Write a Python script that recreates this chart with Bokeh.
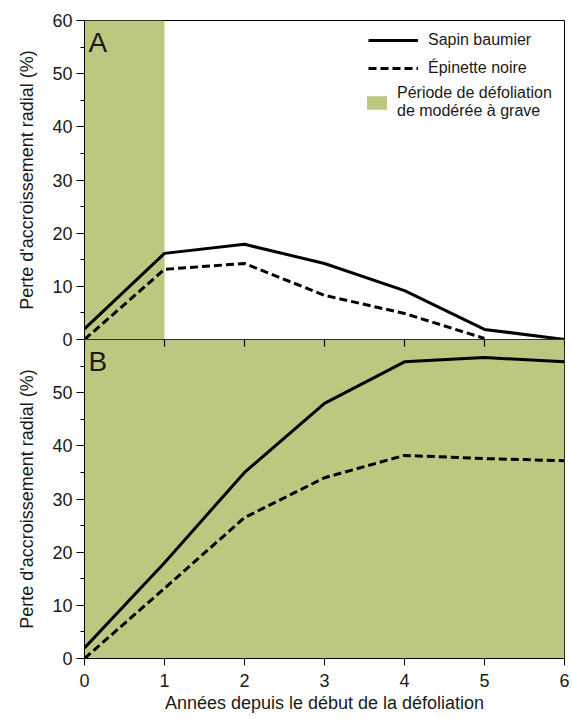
from bokeh.plotting import figure
from bokeh.layouts import column
from bokeh.models import Range1d, FixedTicker, Legend, LegendItem, Label
from bokeh.embed import file_html
from bokeh.resources import INLINE

# ---------------- data ----------------
years = [0, 1, 2, 3, 4, 5, 6]
sapin_A = [2.0, 16.2, 17.9, 14.3, 9.2, 1.9, 0.0]
years_epinette_A = [0, 1, 2, 3, 4, 5]
epinette_A = [0.0, 13.2, 14.3, 8.3, 4.9, 0.2]
sapin_B = [2.0, 18.0, 35.0, 48.0, 55.8, 56.6, 55.8]
epinette_B = [0.0, 13.2, 26.5, 34.0, 38.2, 37.6, 37.2]

defol_A_start = [0]
defol_A_end = [1]
defol_B_start = [0]
defol_B_end = [6]

y_min, y_max = 0, 60
x_min, x_max = 0, 6
y_ticks_A = [0, 10, 20, 30, 40, 50, 60]
y_ticks_B = [0, 10, 20, 30, 40, 50]
y_minor = [5, 15, 25, 35, 45, 55]
x_ticks = [0, 1, 2, 3, 4, 5, 6]

y_label = "Perte d'accroissement radial (%)"
x_label = "Années depuis le début de la défoliation"
lab_sapin = "Sapin baumier"
lab_epinette = "Épinette noire"
lab_defol = "Période de défoliation\nde modérée à grave"

FONT = "Liberation Sans"
GREEN = "#bec77f"
TXT = "#1a1a1a"
W = 572
FRAME_H = 319
TICK_PX = 7
OVERLAP = 14


def style_y(ax, ticks):
    ax.ticker = FixedTicker(ticks=ticks, minor_ticks=y_minor)
    ax.axis_label = y_label
    ax.axis_label_text_font = FONT
    ax.axis_label_text_font_size = "18px"
    ax.axis_label_text_font_style = "normal"
    ax.axis_label_text_color = TXT
    ax.axis_label_standoff = 12
    ax.major_label_text_font = FONT
    ax.major_label_text_font_size = "18px"
    ax.major_label_text_color = TXT
    ax.major_label_standoff = 4
    ax.major_tick_in = 0
    ax.major_tick_out = 8
    ax.minor_tick_in = 0
    ax.minor_tick_out = 4
    ax.axis_line_color = "black"
    ax.major_tick_line_color = "black"
    ax.minor_tick_line_color = "black"


# ---------------- panel A ----------------
pA = figure(width=W, height=20 + FRAME_H + OVERLAP,
            x_range=Range1d(x_min, x_max), y_range=Range1d(y_min, y_max),
            x_axis_location=None, output_backend="svg", toolbar_location=None,
            min_border_left=84, min_border_right=8, min_border_top=20,
            min_border_bottom=OVERLAP)
pA.grid.visible = False
pA.outline_line_color = "black"
pA.outline_line_width = 1
style_y(pA.yaxis[0], y_ticks_A)

bandA = pA.quad(left=defol_A_start, right=defol_A_end, bottom=[y_min],
                top=[y_max], fill_color=GREEN, line_color=None)
rA1 = pA.line(years, sapin_A, line_color="black", line_width=3)
rA2 = pA.line(years_epinette_A, epinette_A, line_color="black",
              line_width=3, line_dash="8 4")

leg1 = Legend(items=[LegendItem(label=lab_sapin, renderers=[rA1]),
                     LegendItem(label=lab_epinette, renderers=[rA2])],
              location=(284, FRAME_H - 58), orientation="vertical",
              glyph_width=50, glyph_height=20, label_standoff=10,
              spacing=8, padding=2, margin=0,
              label_text_font=FONT, label_text_font_size="16px",
              label_text_color=TXT,
              border_line_color=None, background_fill_alpha=0)
leg2 = Legend(items=[LegendItem(label=lab_defol, renderers=[bandA])],
              location=(280, FRAME_H - 100), orientation="vertical",
              glyph_width=25, glyph_height=17, label_standoff=8,
              padding=2, margin=0,
              label_text_font=FONT, label_text_font_size="16px",
              label_text_color=TXT, label_text_line_height=1.1,
              border_line_color=None, background_fill_alpha=0)
pA.add_layout(leg1)
pA.add_layout(leg2)

pA.add_layout(Label(x=x_min, y=y_max, text="A", x_offset=4, y_offset=-6,
                    text_baseline="top", text_font=FONT,
                    text_font_size="28px", text_color=TXT))

# ---------------- panel B ----------------
pB = figure(width=W, height=FRAME_H + 60,
            x_range=Range1d(x_min, x_max), y_range=Range1d(y_min, y_max),
            output_backend="svg", toolbar_location=None,
            min_border_left=84, min_border_right=8, min_border_top=0,
            min_border_bottom=60, margin=(-OVERLAP, 0, 0, 0))
pB.border_fill_alpha = 0
pB.grid.visible = False
pB.outline_line_color = "black"
pB.outline_line_width = 1
style_y(pB.yaxis[0], y_ticks_B)

xb = pB.xaxis[0]
xb.ticker = FixedTicker(ticks=x_ticks, minor_ticks=[])
xb.axis_label = x_label
xb.axis_label_text_font = FONT
xb.axis_label_text_font_size = "18px"
xb.axis_label_text_font_style = "normal"
xb.axis_label_text_color = TXT
xb.axis_label_standoff = 3
xb.major_label_text_font = FONT
xb.major_label_text_font_size = "18px"
xb.major_label_text_color = TXT
xb.major_label_standoff = 8
xb.major_tick_in = 0
xb.major_tick_out = TICK_PX
xb.axis_line_color = "black"
xb.major_tick_line_color = "black"

pB.quad(left=defol_B_start, right=defol_B_end, bottom=[y_min], top=[y_max],
        fill_color=GREEN, line_color=None)
pB.line(years, sapin_B, line_color="black", line_width=3)
pB.line(years, epinette_B, line_color="black", line_width=3, line_dash="8 4")

# panel A's time ticks, pointing down from the shared border
tick_len = TICK_PX * (y_max - y_min) / FRAME_H
pB.segment(x0=x_ticks, y0=[y_max] * len(x_ticks),
           x1=x_ticks, y1=[y_max - tick_len] * len(x_ticks),
           line_color="black", line_width=1.2)

pB.add_layout(Label(x=x_min, y=y_max, text="B", x_offset=4, y_offset=-6,
                    text_baseline="top", text_font=FONT,
                    text_font_size="28px", text_color=TXT))

layout = column(pA, pB, spacing=0)
open("out.html", "w").write(file_html(layout, INLINE))
